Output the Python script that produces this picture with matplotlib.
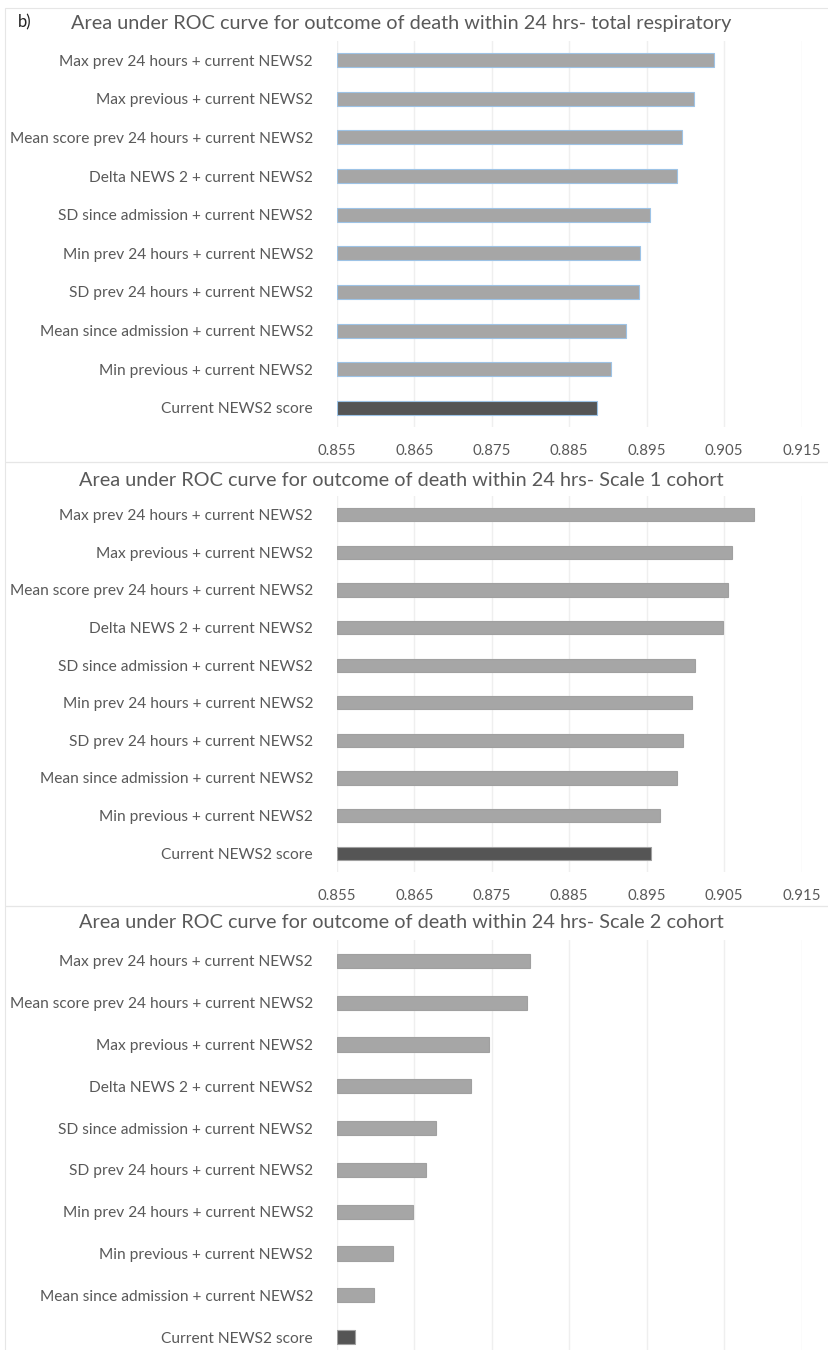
"""
Horizontal bar charts of AUROC values for NEWS2 variants, three cohorts
"""
import matplotlib
matplotlib.use("Agg")
import matplotlib.pyplot as plt
from matplotlib.patches import Rectangle

# Data
labels_a = ["Max prev 24 hours + current NEWS2", "Max previous + current NEWS2",
            "Mean score prev 24 hours + current NEWS2", "Delta NEWS 2 + current NEWS2",
            "SD since admission + current NEWS2", "Min prev 24 hours + current NEWS2",
            "SD prev 24 hours + current NEWS2", "Mean since admission + current NEWS2",
            "Min previous + current NEWS2", "Current NEWS2 score"]
auc_total = [0.9037, 0.9011, 0.8996, 0.8989, 0.8954, 0.8942, 0.8940, 0.8923, 0.8904, 0.8886]
auc_scale1 = [0.9089, 0.9060, 0.9055, 0.9049, 0.9012, 0.9008, 0.8997, 0.8989, 0.8967, 0.8955]

labels_c = ["Max prev 24 hours + current NEWS2", "Mean score prev 24 hours + current NEWS2",
            "Max previous + current NEWS2", "Delta NEWS 2 + current NEWS2",
            "SD since admission + current NEWS2", "SD prev 24 hours + current NEWS2",
            "Min prev 24 hours + current NEWS2", "Min previous + current NEWS2",
            "Mean since admission + current NEWS2", "Current NEWS2 score"]
auc_scale2 = [0.8799, 0.8795, 0.8747, 0.8723, 0.8678, 0.8665, 0.8649, 0.8623, 0.8598, 0.8574]

titles = ["Area under ROC curve for outcome of death within 24 hrs- total respiratory",
          "Area under ROC curve for outcome of death within 24 hrs- Scale 1 cohort",
          "Area under ROC curve for outcome of death within 24 hrs- Scale 2 cohort"]
ticks = [0.855, 0.865, 0.875, 0.885, 0.895, 0.905, 0.915]

W, H = 829, 1350
TXT = "#595959"
plt.rcParams['font.family'] = ['Lato', 'DejaVu Sans']

fig = plt.figure(figsize=(W / 100, H / 100), dpi=100)


def px_axes(left, top, right, bottom):
    return fig.add_axes([left / W, 1 - bottom / H, (right - left) / W, (bottom - top) / H])


# panel frames
for (t, b) in [(8, 462), (462, 906), (906, 1352)]:
    fig.patches.append(Rectangle((5 / W, 1 - b / H), (W - 5) / W, (b - t) / H,
                                 transform=fig.transFigure, fill=False,
                                 edgecolor="#e6e6e6", lw=0.8))

# labels, values, title, plot top/bottom (px), title y (px), bar height, edge colour, show x ticks
panels = [
    (labels_a, auc_total, titles[0], 40.7, 427.3, 24, 0.36, "#9dc3e6", True),
    (labels_a, auc_scale1, titles[1], 496, 872, 480, 0.355, "#a0a0a0", True),
    (labels_c, auc_scale2, titles[2], 940, 1358, 922, 0.34, "#a0a0a0", False),
]

for labels, vals, title, top, bottom, ty, bh, edge, show_x in panels:
    ax = px_axes(336.7, top, 801.7, bottom)
    colors = ["#a6a6a6"] * (len(vals) - 1) + ["#555555"]
    ax.barh(range(len(vals)), [v - 0.855 for v in vals], left=0.855, height=bh,
            color=colors, edgecolor=edge, linewidth=0.8, zorder=3)
    ax.set_xlim(0.855, 0.915)
    ax.set_ylim(len(vals) - 0.5, -0.5)
    ax.set_xticks(ticks)
    ax.set_xticklabels([f"{t:.3f}" for t in ticks])
    ax.set_yticks(range(len(vals)))
    ax.set_yticklabels(labels)
    ax.grid(axis="x", color="#efefef", lw=1, zorder=0)
    for s in ax.spines.values():
        s.set_visible(False)
    ax.tick_params(length=0, colors=TXT, labelsize=11.2)
    ax.tick_params(axis="y", pad=17)
    ax.tick_params(axis="x", pad=12, labelsize=10.8, labelbottom=show_x)
    fig.text(401 / W, 1 - ty / H, title, ha="center", va="center",
             fontsize=14.3, color=TXT)

fig.text(18 / W, 1 - 22 / H, "b)", ha="left", va="center", fontsize=12, color="#222222")

fig.savefig("out.png", dpi=100)
